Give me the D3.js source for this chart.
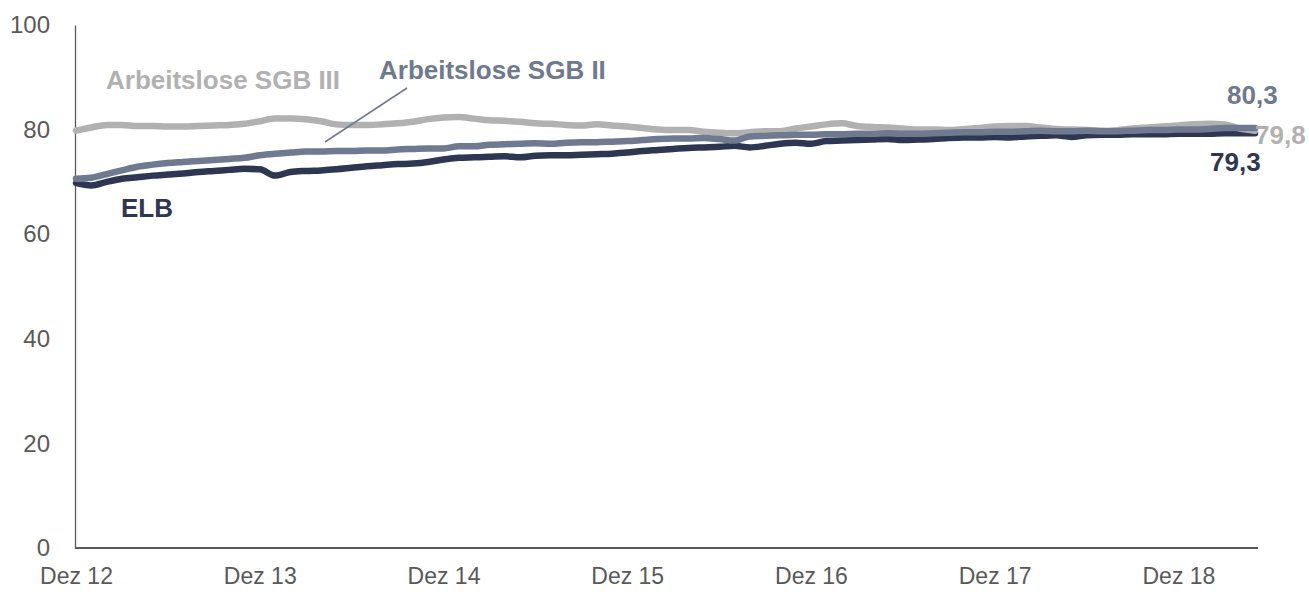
<!DOCTYPE html>
<html>
<head>
<meta charset="utf-8">
<script src="https://cdn.jsdelivr.net/npm/d3@7"></script>
<style>
  html, body { margin: 0; padding: 0; background: #ffffff; }
  svg { display: block; font-family: "Liberation Sans", Arial, sans-serif; }
</style>
</head>
<body>
<svg id="chart" width="1309" height="592"></svg>
<script>
// Monthly series, Dez 12 .. Mai 19 (78 months)
const months = d3.range(78).map(i => new Date(2012, 11 + i, 1));

const sgb3 = [79.8, 80.4, 80.9, 80.9, 80.7, 80.7, 80.6, 80.6, 80.7, 80.8, 80.9, 81.1,
  81.6, 82.1, 82.1, 82.0, 81.6, 81.0, 80.9, 80.9, 81.0, 81.2, 81.5, 82.0,
  82.3, 82.4, 82.1, 81.8, 81.7, 81.5, 81.2, 81.1, 80.9, 80.8, 81.0, 80.8,
  80.6, 80.3, 80.0, 79.9, 79.9, 79.6, 79.4, 79.3, 79.5, 79.7, 79.7, 80.2,
  80.6, 81.0, 81.2, 80.7, 80.5, 80.4, 80.2, 80.0, 80.0, 79.9, 80.1, 80.3,
  80.6, 80.7, 80.7, 80.4, 80.1, 80.0, 79.9, 79.8, 79.9, 80.2, 80.4, 80.6,
  80.8, 81.0, 81.1, 81.0, 80.2, 79.8];

const sgb2 = [70.6, 70.8, 71.5, 72.2, 72.9, 73.3, 73.6, 73.8, 74.0, 74.2, 74.4, 74.6,
  75.1, 75.4, 75.6, 75.8, 75.8, 75.9, 75.9, 76.0, 76.0, 76.2, 76.3, 76.4,
  76.4, 76.8, 76.8, 77.1, 77.2, 77.3, 77.4, 77.3, 77.5, 77.6, 77.6, 77.7,
  77.8, 78.0, 78.2, 78.3, 78.3, 78.4, 78.2, 77.9, 78.7, 78.8, 78.9, 79.0,
  79.0, 79.1, 79.1, 79.2, 79.2, 79.3, 79.2, 79.2, 79.3, 79.4, 79.5, 79.5,
  79.6, 79.6, 79.7, 79.8, 79.7, 79.7, 79.8, 79.7, 79.7, 79.8, 79.9, 79.9,
  80.0, 80.0, 80.1, 80.3, 80.3, 80.3];

const elb = [69.8, 69.3, 70.0, 70.6, 70.9, 71.2, 71.4, 71.6, 71.9, 72.1, 72.3, 72.5,
  72.4, 71.2, 71.9, 72.1, 72.2, 72.4, 72.7, 73.0, 73.2, 73.4, 73.5, 73.8,
  74.3, 74.6, 74.7, 74.8, 74.9, 74.7, 75.0, 75.1, 75.1, 75.2, 75.3, 75.4,
  75.6, 75.9, 76.1, 76.3, 76.5, 76.6, 76.7, 76.9, 76.6, 76.9, 77.3, 77.5,
  77.3, 77.8, 77.9, 78.0, 78.1, 78.2, 78.0, 78.1, 78.2, 78.4, 78.5, 78.5,
  78.6, 78.5, 78.7, 78.8, 78.9, 78.6, 78.9, 79.0, 79.0, 79.1, 79.1, 79.1,
  79.2, 79.2, 79.2, 79.3, 79.3, 79.3];

const yTicks = [0, 20, 40, 60, 80, 100];
const xTickLabels = ["Dez 12", "Dez 13", "Dez 14", "Dez 15", "Dez 16", "Dez 17", "Dez 18"];

const colors = { elb: "#2e3751", sgb2: "#6f7990", sgb3: "#b1b1b1", axis: "#595959", tick: "#595959" };
const fontFamily = "Liberation Sans, Arial, sans-serif";

const svg = d3.select("#chart");
const x = d3.scaleLinear().domain([0, months.length - 1]).range([76, 1255]);
const y = d3.scaleLinear().domain([0, 100]).range([548, 25]);

// axes
const yAxis = svg.append("g").attr("transform", "translate(75,0)")
  .call(d3.axisLeft(y).tickValues(yTicks).tickSize(0).tickPadding(25));
yAxis.select(".domain").attr("stroke", colors.axis).attr("stroke-width", 1.3);
yAxis.selectAll("text").attr("font-size", 24).attr("fill", colors.tick)
  .attr("font-family", fontFamily);

const xAxis = svg.append("g").attr("transform", "translate(0,548)")
  .call(d3.axisBottom(x).tickValues(d3.range(0, 73, 12)).tickSize(0).tickPadding(20)
    .tickFormat((d, i) => xTickLabels[i]));
xAxis.select(".domain").attr("stroke", colors.axis).attr("stroke-width", 2.2)
  .attr("d", `M75,0H1258`);
xAxis.selectAll("text").attr("font-size", 23).attr("fill", colors.tick)
  .attr("font-family", fontFamily);

// lines
const line = d3.line().x((d, i) => x(i)).y(d => y(d)).curve(d3.curveMonotoneX);
const series = [
  { key: "elb", values: elb },
  { key: "sgb3", values: sgb3 },
  { key: "sgb2", values: sgb2 }
];
svg.append("g").selectAll("path").data(series).join("path")
  .attr("d", d => line(d.values))
  .attr("fill", "none")
  .attr("stroke", d => colors[d.key])
  .attr("stroke-width", 6.5)
  .attr("stroke-linejoin", "round")
  .attr("stroke-linecap", "round");

// series labels
const lbl = svg.append("g").attr("font-weight", "bold").attr("font-size", 26);
lbl.append("text").attr("x", 106).attr("y", 89).attr("fill", colors.sgb3).text("Arbeitslose SGB III");
lbl.append("text").attr("x", 379).attr("y", 79).attr("fill", colors.sgb2).text("Arbeitslose SGB II");
lbl.append("text").attr("x", 121).attr("y", 217).attr("fill", colors.elb).text("ELB");
svg.append("line").attr("x1", 325).attr("y1", 142).attr("x2", 407).attr("y2", 88)
  .attr("stroke", colors.sgb2).attr("stroke-width", 1.5);

// end values
const last = months.length - 1;
const fmt = v => d3.format(".1f")(v).replace(".", ",");
const endLbl = svg.append("g").attr("font-weight", "bold").attr("font-size", 26);
endLbl.append("text").attr("x", 1227).attr("y", 104)
  .attr("fill", colors.sgb2).text(fmt(sgb2[last]));
endLbl.append("text").attr("x", 1255).attr("y", 144)
  .attr("fill", colors.sgb3).text(fmt(sgb3[last]));
endLbl.append("text").attr("x", 1210).attr("y", 171)
  .attr("fill", colors.elb).text(fmt(elb[last]));
</script>
</body>
</html>
